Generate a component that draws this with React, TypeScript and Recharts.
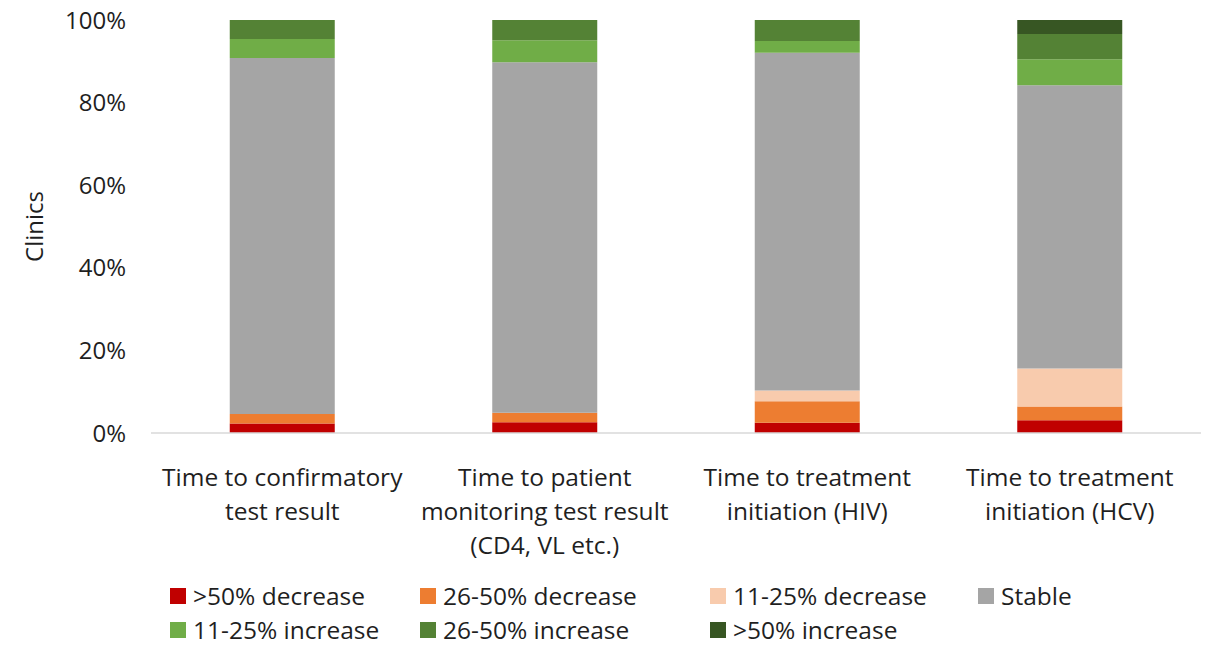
import { BarChart, Bar, XAxis, YAxis, Legend, Label } from "recharts";

const categories = [
  "Time to confirmatory|test result",
  "Time to patient|monitoring test result|(CD4, VL etc.)",
  "Time to treatment|initiation (HIV)",
  "Time to treatment|initiation (HCV)",
];

const dec50 = [2.3, 2.6, 2.5, 3.1];
const dec26 = [2.3, 2.3, 5.2, 3.3];
const dec11 = [0, 0, 2.6, 9.2];
const stable = [86.2, 84.9, 81.8, 68.6];
const inc11 = [4.6, 5.3, 2.8, 6.3];
const inc26 = [4.6, 4.9, 5.1, 6.1];
const inc50 = [0, 0, 0, 3.4];

const yTicks = [0, 20, 40, 60, 80, 100];

const series = [
  { key: "dec50", name: ">50% decrease", color: "#C00000", values: dec50 },
  { key: "dec26", name: "26-50% decrease", color: "#ED7D31", values: dec26 },
  { key: "dec11", name: "11-25% decrease", color: "#F8CBAD", values: dec11 },
  { key: "stable", name: "Stable", color: "#A5A5A5", values: stable },
  { key: "inc11", name: "11-25% increase", color: "#70AD47", values: inc11 },
  { key: "inc26", name: "26-50% increase", color: "#548235", values: inc26 },
  { key: "inc50", name: ">50% increase", color: "#375623", values: inc50 },
];

const data = categories.map((label, i) => {
  const row: Record<string, string | number> = { label };
  series.forEach((s) => {
    row[s.key] = s.values[i];
  });
  return row;
});

const font = "'Open Sans', 'Liberation Sans', sans-serif";
const textColor = "#1f1f1f";

function CategoryTick({ x, y, payload }: any) {
  const lines = String(payload.value).split("|");
  return (
    <text
      x={x}
      y={y + 45}
      textAnchor="middle"
      fill={textColor}
      fontSize={24.5}
      fontFamily={font}
    >
      {lines.map((line, i) => (
        <tspan key={i} x={x} dy={i === 0 ? 0 : 34}>
          {line}
        </tspan>
      ))}
    </text>
  );
}

function LegendContent() {
  return (
    <div
      style={{
        display: "grid",
        gridTemplateColumns: "250px 290px 268px 200px",
        gridAutoRows: "33px",
        rowGap: 1,
        paddingLeft: 170,
        fontFamily: font,
        fontSize: 24.5,
        lineHeight: "33px",
        color: textColor,
        boxSizing: "border-box",
      }}
    >
      {series.map((s) => (
        <div key={s.key} style={{ display: "flex", alignItems: "center" }}>
          <span
            style={{
              width: 16,
              height: 16,
              background: s.color,
              display: "inline-block",
              marginRight: 7,
              flexShrink: 0,
            }}
          />
          <span style={{ whiteSpace: "nowrap" }}>{s.name}</span>
        </div>
      ))}
    </div>
  );
}

export default function App() {
  return (
    <div style={{ position: "absolute", left: 0, top: 0, background: "#fff" }}>
      <BarChart
        width={1215}
        height={647}
        data={data}
        margin={{ top: 20, right: 14, left: 0, bottom: 0 }}
        barCategoryGap="30%"
      >
        <XAxis
          dataKey="label"
          tick={<CategoryTick />}
          tickLine={false}
          axisLine={{ stroke: "#D9D9D9", strokeWidth: 1.5 }}
          height={147}
          interval={0}
        />
        <YAxis
          domain={[0, 100]}
          ticks={yTicks}
          width={151}
          tickFormatter={(v: number) => `${v}%`}
          tick={{ fill: textColor, fontSize: 24, fontFamily: font }}
          tickLine={false}
          axisLine={false}
          tickMargin={19}
        >
          <Label
            value="Clinics"
            angle={-90}
            position="insideLeft"
            offset={34}
            style={{ fill: textColor, fontSize: 24, fontFamily: font, textAnchor: "middle" }}
          />
        </YAxis>
        <Legend
          verticalAlign="bottom"
          content={<LegendContent />}
          wrapperStyle={{ left: 0, width: 1215, top: 579, height: 67 }}
        />
        {series.map((s) => (
          <Bar
            key={s.key}
            dataKey={s.key}
            name={s.name}
            stackId="a"
            fill={s.color}
            isAnimationActive={false}
          />
        ))}
      </BarChart>
    </div>
  );
}
